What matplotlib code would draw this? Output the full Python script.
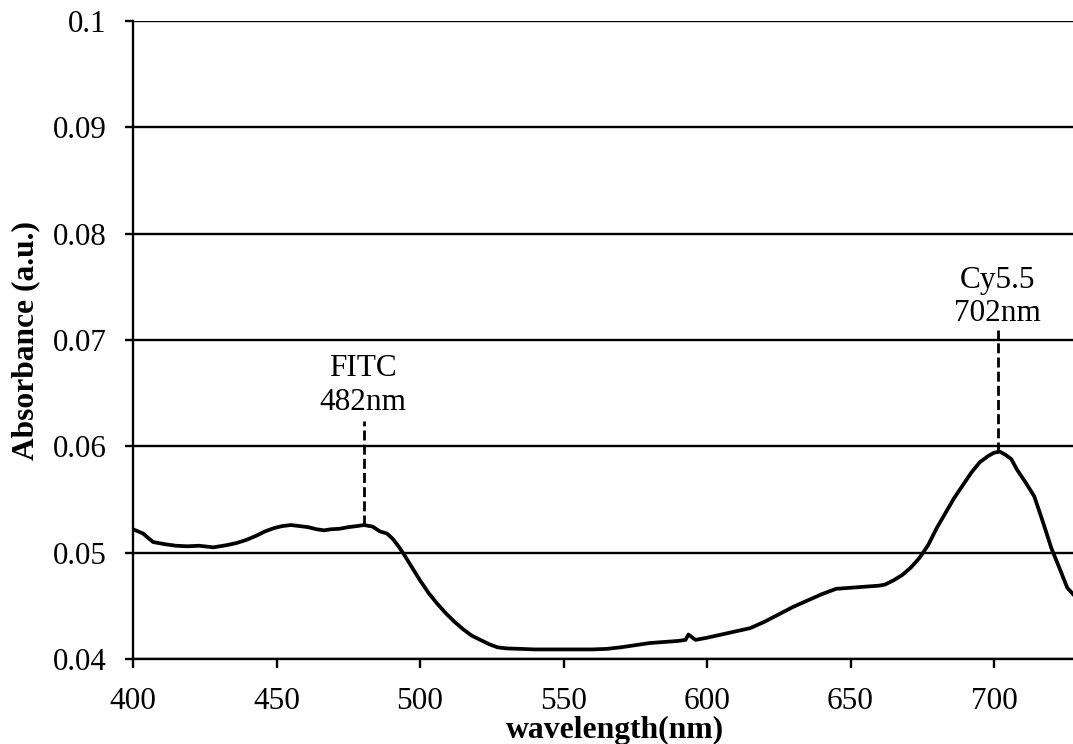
import matplotlib
matplotlib.use("Agg")
import matplotlib.pyplot as plt

wavelength = [400, 403.5, 407, 411, 415, 419, 423, 428, 432.5, 436, 439.5, 443, 446, 449,
              452, 455, 458, 461, 464, 466.5, 469, 472, 475, 478, 480.5, 483.5, 486, 488.5,
              490.5, 492.5, 494.5, 497, 500, 503, 506, 509, 512, 515, 518, 521, 524, 527,
              530, 535, 540, 545, 550, 555, 560, 565, 570, 575, 580, 585, 590, 592.5, 593.5,
              594.5, 596, 600, 605, 610, 615, 620, 625, 630, 635, 640, 645, 650, 655, 660,
              662, 665, 668, 671, 674, 677, 680, 683, 686, 689, 692, 695, 698, 700, 702,
              704, 706, 708, 711, 714, 717, 720, 723, 725.5, 727.5]
absorbance = [0.0522, 0.0518, 0.0510, 0.0508, 0.05065, 0.0506, 0.05065, 0.0505, 0.0507,
              0.0509, 0.0512, 0.0516, 0.0520, 0.0523, 0.0525, 0.0526, 0.0525, 0.0524,
              0.0522, 0.0521, 0.0522, 0.05225, 0.0524, 0.0525, 0.0526, 0.05245, 0.0520,
              0.0518, 0.0513, 0.0506, 0.0498, 0.0487, 0.0474, 0.0462, 0.0452, 0.0443,
              0.0435, 0.0428, 0.0422, 0.0418, 0.0414, 0.0411, 0.0410, 0.04095, 0.0409,
              0.0409, 0.0409, 0.0409, 0.0409, 0.04095, 0.0411, 0.0413, 0.0415, 0.0416,
              0.0417, 0.0418, 0.0423, 0.0421, 0.0418, 0.0420, 0.0423, 0.0426, 0.0429,
              0.0435, 0.0442, 0.0449, 0.0455, 0.0461, 0.0466, 0.0467, 0.0468, 0.0469,
              0.0470, 0.0474, 0.0479, 0.0486, 0.0495, 0.0507, 0.0523, 0.0537, 0.0551,
              0.0563, 0.0575, 0.0585, 0.0591, 0.0594, 0.0595, 0.0592, 0.0588, 0.0578,
              0.0566, 0.0553, 0.0529, 0.0504, 0.0484, 0.0467, 0.0461]

x_ticks = [400, 450, 500, 550, 600, 650, 700]
y_ticks = [0.04, 0.05, 0.06, 0.07, 0.08, 0.09, 0.1]
y_tick_labels = ["0.04", "0.05", "0.06", "0.07", "0.08", "0.09", "0.1"]

peak_labels = ["FITC\n482nm", "Cy5.5\n702nm"]
peak_x = [480.5, 701.5]
peak_y = [0.0526, 0.0595]
marker_top = [0.0624, 0.07095]
label_x = [480.0, 701.2]
label_y = [0.0628, 0.0711]

plt.rcParams['font.family'] = ['Liberation Serif', 'DejaVu Serif']

fig = plt.figure(figsize=(10.73, 7.44), dpi=100)
ax = fig.add_axes([133 / 1073, 1 - 659 / 744, 1 - 133 / 1073, (659 - 21) / 744])

ax.plot(wavelength, absorbance, color='black', lw=2.7, solid_joinstyle='round')

for px, py, top, lx, ly, txt in zip(peak_x, peak_y, marker_top, label_x, label_y, peak_labels):
    ax.plot([px, px], [py, top], color='black', lw=2.0, dashes=(3.6, 1.5))
    ax.text(lx, ly, txt, ha='center', va='bottom', fontsize=22.5, linespacing=1.2)

ax.set_xlim(400, 727.5)
ax.set_ylim(0.04, 0.1)
ax.set_xticks(x_ticks)
ax.set_xticklabels([str(v) for v in x_ticks])
ax.set_yticks(y_ticks)
ax.set_yticklabels(y_tick_labels)

ax.yaxis.grid(True, color='black', lw=1.7)
ax.set_axisbelow(True)

ax.spines['right'].set_visible(False)
ax.spines['top'].set_visible(False)
for side in ['left', 'bottom']:
    ax.spines[side].set_linewidth(1.7)

ax.tick_params(axis='x', direction='out', length=6.5, width=1.7, pad=14, labelsize=22.5)
ax.tick_params(axis='y', direction='out', length=6, width=1.7, pad=13, labelsize=22.3)

fig.text(26 / 1073, 1 - 341 / 744, "Absorbance (a.u.)", rotation=90, ha='center',
         va='center', fontsize=22.7, fontweight='bold')
fig.text(615 / 1073, 1 - 738 / 744, "wavelength(nm)", ha='center', va='baseline',
         fontsize=22.8, fontweight='bold')

fig.savefig("out.png", dpi=100)
